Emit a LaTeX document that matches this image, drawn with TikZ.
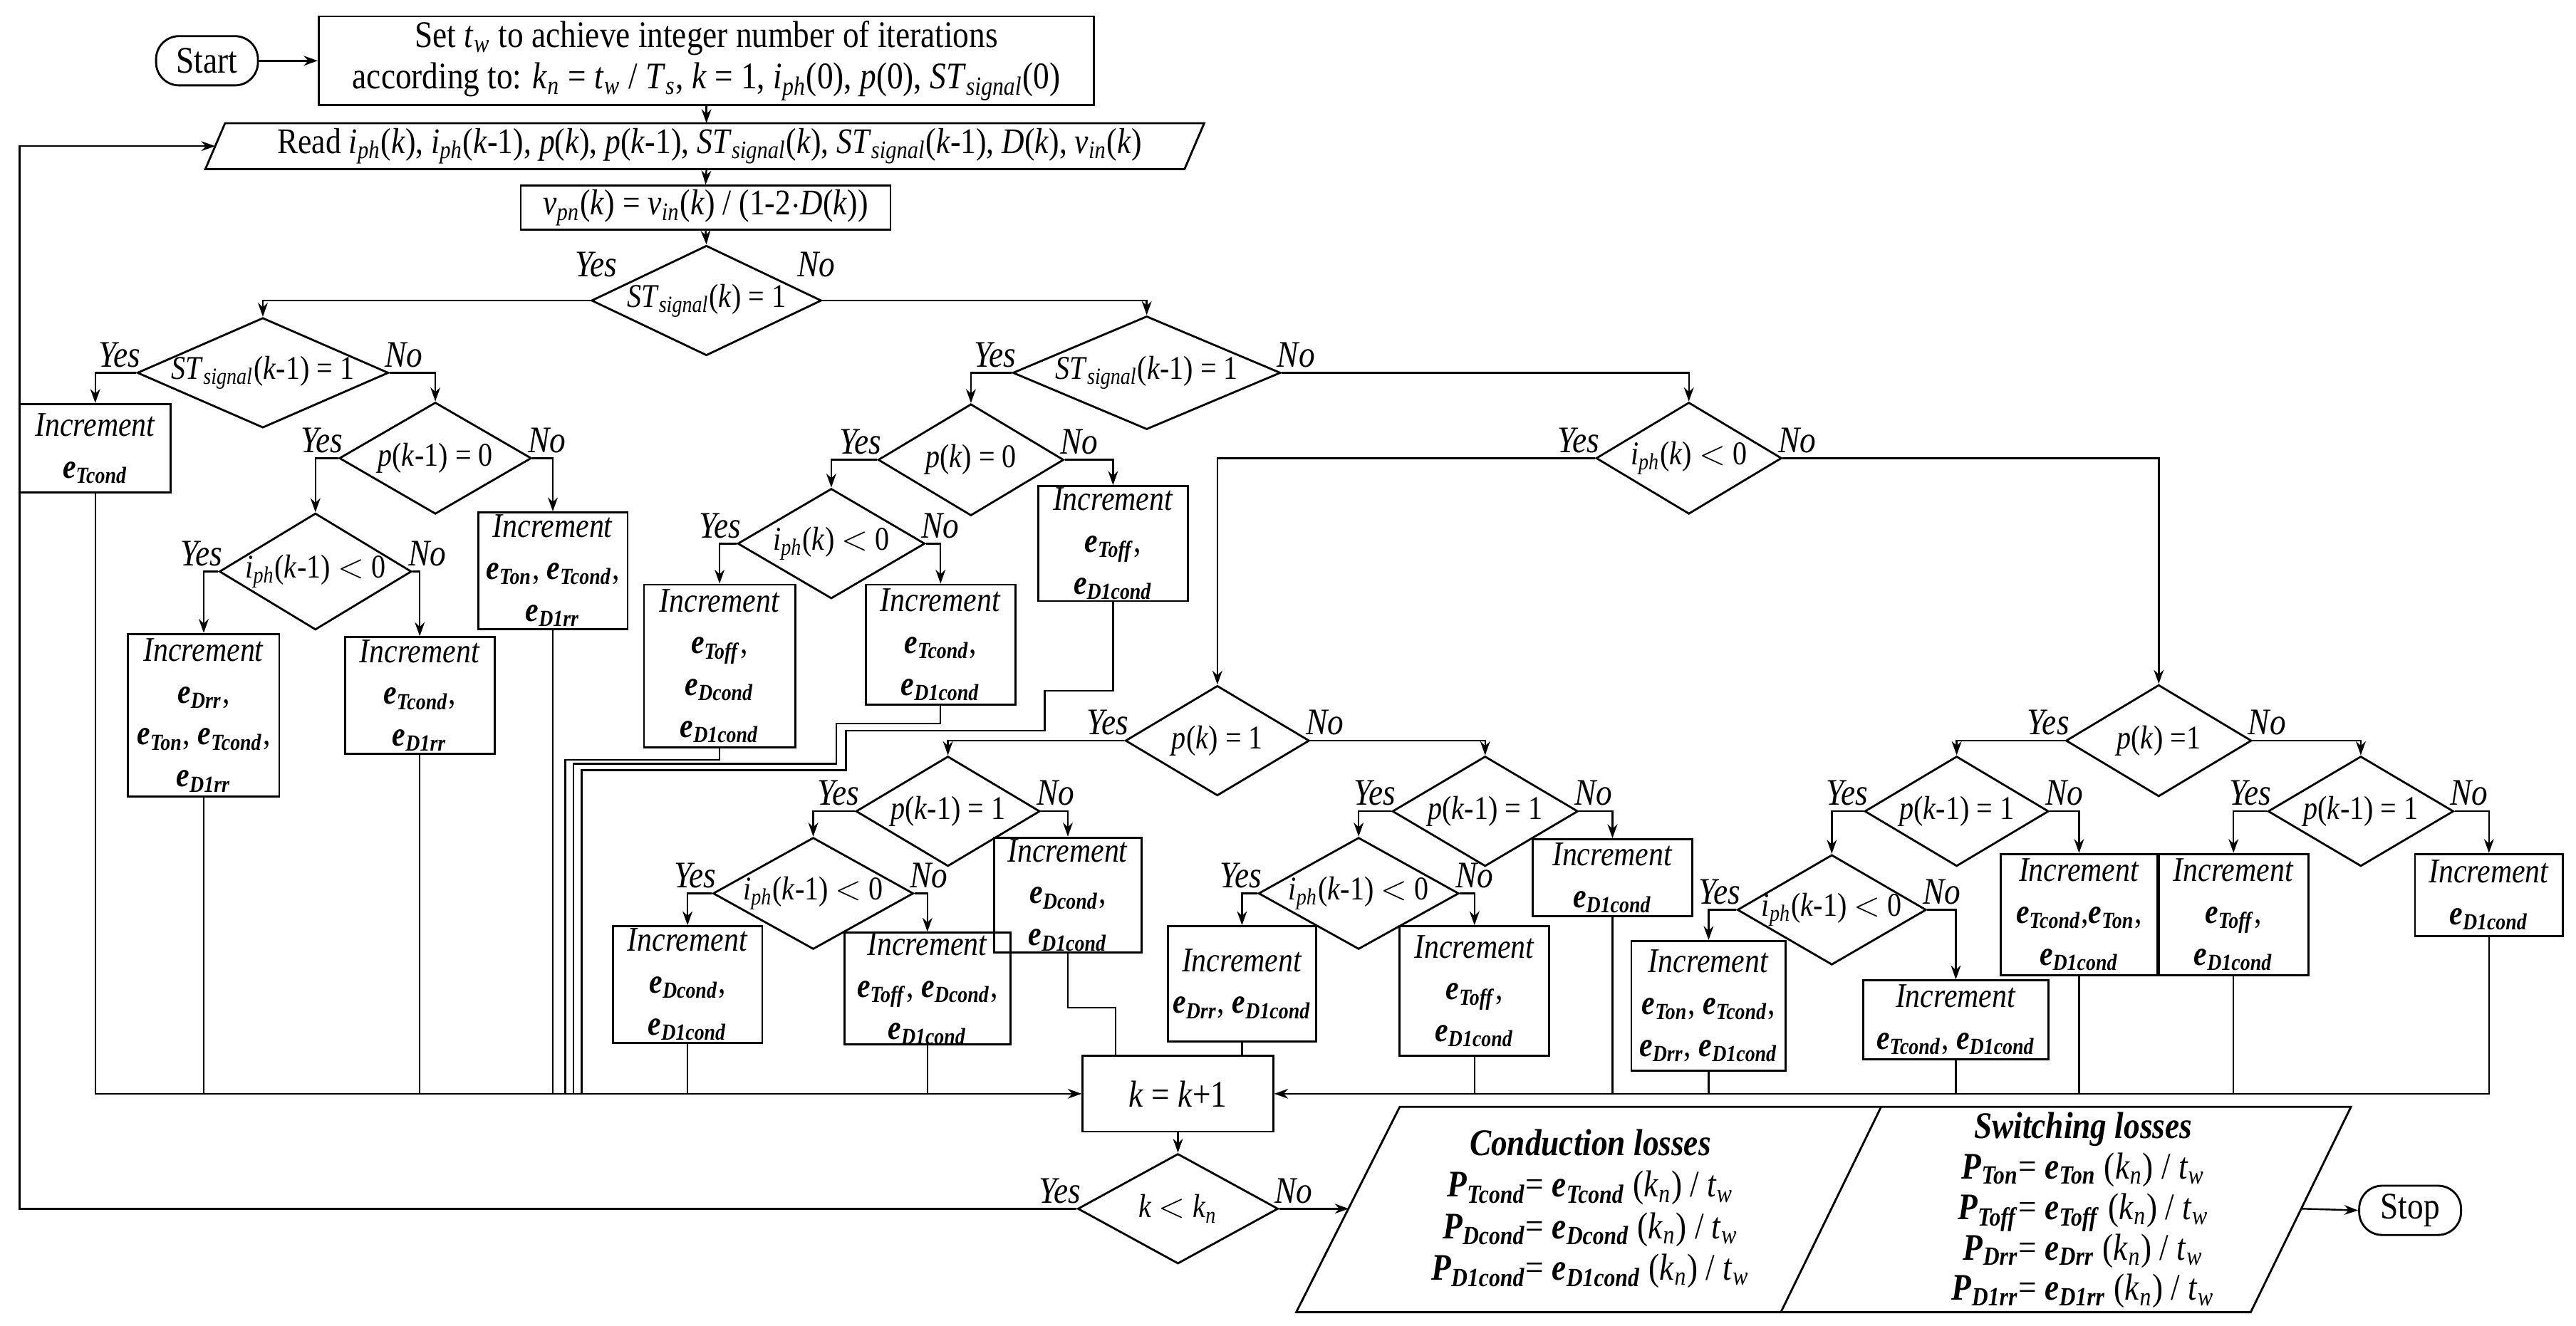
\documentclass[tikz,border=0pt]{standalone}
\usepackage{fontspec}
\setmainfont{Liberation Serif}[FakeStretch=0.86]
\usetikzlibrary{arrows.meta,shapes.geometric,calc}
\newcommand\vs[2]{\textit{#1}\textsubscript{\textit{#2}}}
\newcommand\eL[1]{\textbf{\textit{e}}\textsubscript{\textbf{\textit{#1}}}}
\newcommand\PL[1]{\textbf{\textit{P}}\textsubscript{\textbf{\textit{#1}}}}
\newcommand\kk{\textit{k}}
\newcommand\mkbox[6]{\node[box,minimum width={(#3-#2)*0.2mm},minimum height={(#5-#4)*0.2mm}] (#1) at ({(#2+#3)/2},{(#4+#5)/2}) {#6};}
\newcommand\mkdia[6]{\node[dia,minimum width={#4*0.2mm},minimum height={#5*0.2mm}] (#1) at (#2,#3) {};\node[dtext] (#1t) at (#1) {#6};}
\newcommand\yn[1]{\node[lab,anchor=south east] (#1y) at ([shift={(3,-3)}]#1.west) {Yes};\node[lab,anchor=south west] (#1n) at ([shift={(-3,-3)}]#1.east) {No};}
\begin{document}
\begin{tikzpicture}[x=0.2mm,y=-0.2mm,
  every node/.style={font=\fontsize{12}{15}\selectfont},
  box/.style={draw,line width=0.7pt,rectangle,inner sep=0pt,align=center,font=\fontsize{12}{14.5}\selectfont},
  dia/.style={draw,line width=0.7pt,diamond,inner sep=0pt},
  dtext/.style={inner sep=0pt,font=\fontsize{11.5}{14}\selectfont},
  lab/.style={inner sep=0pt,font=\itshape\fontsize{13}{15}\selectfont},
  arr/.style={-{Stealth[length=1.7mm,width=1.2mm]},line width=0.6pt},
  ln/.style={line width=0.6pt}]
\useasboundingbox (0,0) rectangle (1568,807);
% top
\node[draw,line width=0.7pt,rounded corners=2.8mm,minimum width=12.4mm,minimum height=6mm,inner sep=0pt,font=\fontsize{13}{15}\selectfont] (start) at (126,37) {Start};
\mkbox{box1}{194}{666}{10}{64}{\fontsize{13}{16}\selectfont Set \vs{t}{w} to achieve integer number of iterations\\ \fontsize{13}{16}\selectfont according to: \vs{k}{n} = \vs{t}{w} / \vs{T}{s}, \kk{} = 1, \vs{i}{ph}(0), \textit{p}(0), \vs{ST}{signal}(0)}
\draw[line width=0.7pt] (137,75) -- (733,75) -- (721,103) -- (125,103) -- cycle;
\node[inner sep=0pt,font=\fontsize{12.5}{15}\selectfont] (read) at (432,89) {Read \vs{i}{ph}(\kk), \vs{i}{ph}(\kk-1), \textit{p}(\kk), \textit{p}(\kk-1), \vs{ST}{signal}(\kk), \vs{ST}{signal}(\kk-1), \textit{D}(\kk), \vs{v}{in}(\kk)};
\coordinate (readN) at (430,75);
\coordinate (readS) at (430,103);
\coordinate (readW) at (131,89);
\mkbox{vpn}{317}{542}{113}{140}{\fontsize{12.5}{15}\selectfont\vs{v}{pn}(\kk) = \vs{v}{in}(\kk) / (1-2$\cdot$\textit{D}(\kk))}
\draw[arr] (start.east) -- (box1.west);
\draw[arr] (box1.south) -- (readN);
\draw[arr] (readS) -- (vpn.north);
% diamonds
\mkdia{d1}{430}{183}{140}{67}{\vs{ST}{signal}(\kk) = 1}
\mkdia{d2}{160}{227}{153}{67}{\vs{ST}{signal}(\kk-1) = 1}
\mkdia{d3}{698}{227}{163}{69}{\vs{ST}{signal}(\kk-1) = 1}
\mkdia{d4}{265}{279}{117}{68}{\textit{p}(\kk-1) = 0}
\mkdia{d5}{192}{348}{117}{71}{\vs{i}{ph}(\kk-1) $<$ 0}
\mkdia{d6}{591}{280}{113}{68}{\textit{p}(\kk) = 0}
\mkdia{d7}{506}{331}{114}{67}{\vs{i}{ph}(\kk) $<$ 0}
\mkdia{d8}{1028}{279}{113}{68}{\vs{i}{ph}(\kk) $<$ 0}
\mkdia{d9}{741}{451}{112}{67}{\textit{p}(\kk) = 1}
\mkdia{d10}{1314}{451}{113}{68}{\textit{p}(\kk) =1}
\mkdia{d11}{1191}{494}{112}{67}{\textit{p}(\kk-1) = 1}
\mkdia{d12}{1115}{554}{115}{67}{\vs{i}{ph}(\kk-1) $<$ 0}
\mkdia{d13}{1437}{494}{113}{67}{\textit{p}(\kk-1) = 1}
\mkdia{d14}{577}{494}{112}{67}{\textit{p}(\kk-1) = 1}
\mkdia{d15}{904}{494}{113}{67}{\textit{p}(\kk-1) = 1}
\mkdia{d16}{495}{544}{122}{68}{\vs{i}{ph}(\kk-1) $<$ 0}
\mkdia{d17}{827}{544}{122}{68}{\vs{i}{ph}(\kk-1) $<$ 0}
\mkdia{d18}{717}{736}{122}{67}{\kk{} $<$ \vs{k}{n}}
\node[lab] (d1y) at (363,161) {Yes};
\node[lab] (d1n) at (497,161) {No};
\foreach \d in {d2,d3,d4,d5,d6,d7,d8,d9,d10,d11,d12,d13,d14,d15,d16,d17,d18}{\yn{\d}}
% boxes
\mkbox{b1}{12}{104}{246}{300}{\textit{Increment}\\ \eL{Tcond}}
\mkbox{b2}{291}{382}{312}{383}{\textit{Increment}\\ \eL{Ton}, \eL{Tcond},\\ \eL{D1rr}}
\mkbox{b3}{78}{170}{386}{485}{\textit{Increment}\\ \eL{Drr},\\ \eL{Ton}, \eL{Tcond},\\ \eL{D1rr}}
\mkbox{b4}{210}{301}{388}{459}{\textit{Increment}\\ \eL{Tcond},\\ \eL{D1rr}}
\mkbox{b5}{392}{484}{356}{455}{\textit{Increment}\\ \eL{Toff},\\ \eL{Dcond}\\ \eL{D1cond}}
\mkbox{b6}{527}{618}{356}{429}{\textit{Increment}\\ \eL{Tcond},\\ \eL{D1cond}}
\mkbox{b7}{632}{723}{296}{366}{\textit{Increment}\\ \eL{Toff},\\ \eL{D1cond}}
\mkbox{b8}{373}{464}{564}{635}{\textit{Increment}\\ \eL{Dcond},\\ \eL{D1cond}}
\mkbox{b9}{514}{615}{568}{636}{\textit{Increment}\\ \eL{Toff}, \eL{Dcond},\\ \eL{D1cond}}
\mkbox{b10}{605}{695}{510}{580}{\textit{Increment}\\ \eL{Dcond},\\ \eL{D1cond}}
\mkbox{b11}{711}{801}{564}{634}{\textit{Increment}\\ \eL{Drr}, \eL{D1cond}}
\mkbox{b12}{852}{943}{564}{643}{\textit{Increment}\\ \eL{Toff},\\ \eL{D1cond}}
\mkbox{b13}{933}{1030}{511}{558}{\textit{Increment}\\ \eL{D1cond}}
\mkbox{b14}{993}{1087}{573}{652}{\textit{Increment}\\ \eL{Ton}, \eL{Tcond},\\ \eL{Drr}, \eL{D1cond}}
\mkbox{b15}{1134}{1247}{597}{645}{\textit{Increment}\\ \eL{Tcond}, \eL{D1cond}}
\mkbox{b16}{1218}{1313}{520}{594}{\textit{Increment}\\ \eL{Tcond},\eL{Ton},\\ \eL{D1cond}}
\mkbox{b17}{1314}{1405}{520}{594}{\textit{Increment}\\ \eL{Toff},\\ \eL{D1cond}}
\mkbox{b18}{1470}{1560}{520}{570}{\textit{Increment}\\ \eL{D1cond}}
\mkbox{kbox}{659}{775}{643}{689}{\fontsize{13}{15}\selectfont\kk{} = \kk+1}
% decision connectors
\draw[arr] (vpn.south) -- (d1.north);
\draw[arr] (d1.west) -| (d2.north);
\draw[arr] (d1.east) -| (d3.north);
\draw[arr] (d2.west) -| (b1.north);
\draw[arr] (d2.east) -| (d4.north);
\draw[arr] (d4.west) -| (d5.north);
\draw[arr] (d4.east) -| (b2.north);
\draw[arr] (d5.west) -| (b3.north);
\draw[arr] (d5.east) -| (b4.north);
\draw[arr] (d3.west) -| (d6.north);
\draw[arr] (d3.east) -| (d8.north);
\draw[arr] (d6.west) -| (d7.north);
\draw[arr] (d6.east) -| (b7.north);
\draw[arr] (d7.west) -| (b5.north);
\draw[arr] (d7.east) -| (b6.north);
\draw[arr] (d8.west) -| (d9.north);
\draw[arr] (d8.east) -| (d10.north);
\draw[arr] (d9.west) -| (d14.north);
\draw[arr] (d9.east) -| (d15.north);
\draw[arr] (d14.west) -| (d16.north);
\draw[arr] (d14.east) -| (b10.north);
\draw[arr] (d16.west) -| (b8.north);
\draw[arr] (d16.east) -| (b9.north);
\draw[arr] (d15.west) -| (d17.north);
\draw[arr] (d15.east) -| (b13.north);
\draw[arr] (d17.west) -| (b11.north);
\draw[arr] (d17.east) -| (b12.north);
\draw[arr] (d10.west) -| (d11.north);
\draw[arr] (d10.east) -| (d13.north);
\draw[arr] (d11.west) -| (d12.north);
\draw[arr] (d11.east) -| (b16.north);
\draw[arr] (d12.west) -| (b14.north);
\draw[arr] (d12.east) -| (b15.north);
\draw[arr] (d13.west) -| (b17.north);
\draw[arr] (d13.east) -| (b18.north);
% merge lines
\foreach \b in {b3,b4,b2,b8,b9}{\draw[ln] (\b.south) -- (\b.south |- kbox.west);}
\draw[arr] (b1.south) -- (b1.south |- kbox.west) -- (kbox.west);
\draw[ln] (b5.south) -- ++(0,7) -| (344,666);
\draw[ln] (b6.south) -- ++(0,11) -| (509,465) -| (349,666);
\draw[ln] (b7.south) -- ++(0,54) -| (636,445) -| (515,469) -| (354,666);
\draw[ln] (b10.south) -- ++(0,33) -| (kbox.north -| 679,0);
\draw[ln] (b11.south) -- (b11.south |- kbox.north);
\foreach \b in {b12,b13,b14,b15,b16,b17}{\draw[ln] (\b.south) -- (\b.south |- kbox.east);}
\draw[arr] (b18.south) -- (b18.south |- kbox.east) -- (kbox.east);
\draw[arr] (kbox.south) -- (d18.north);
\coordinate (loopc) at (12,736);
\draw[arr] (d18.west) -- (loopc) |- (readW);
% output
\draw[line width=0.7pt] (852,674) -- (1431,674) -- (1370,799) -- (789,799) -- cycle;
\draw[line width=0.7pt] (1145,674) -- (1084,799);
\coordinate (outW) at (821,736);
\coordinate (outE) at (1401,736);
\draw[arr] (d18.east) -- (outW);
\node[inner sep=0pt,align=center,font=\fontsize{13}{14.4}\selectfont] (cond) at (968,736) {\textbf{\textit{Conduction losses}}\\ \PL{Tcond}= \eL{Tcond} (\vs{k}{n}) / \vs{t}{w}\\ \PL{Dcond}= \eL{Dcond} (\vs{k}{n}) / \vs{t}{w}\\ \PL{D1cond}= \eL{D1cond} (\vs{k}{n}) / \vs{t}{w}};
\node[inner sep=0pt,align=center,font=\fontsize{13}{14}\selectfont] (sw) at (1268,737) {\textbf{\textit{Switching losses}}\\ \PL{Ton}= \eL{Ton} (\vs{k}{n}) / \vs{t}{w}\\ \PL{Toff}= \eL{Toff} (\vs{k}{n}) / \vs{t}{w}\\ \PL{Drr}= \eL{Drr} (\vs{k}{n}) / \vs{t}{w}\\ \PL{D1rr}= \eL{D1rr} (\vs{k}{n}) / \vs{t}{w}};
\node[draw,line width=0.7pt,rounded corners=2.8mm,minimum width=12.4mm,minimum height=6mm,inner sep=0pt,font=\fontsize{13}{15}\selectfont] (stop) at (1467,737) {Stop};
\draw[arr] (outE) -- (stop.west);
\end{tikzpicture}
\end{document}
